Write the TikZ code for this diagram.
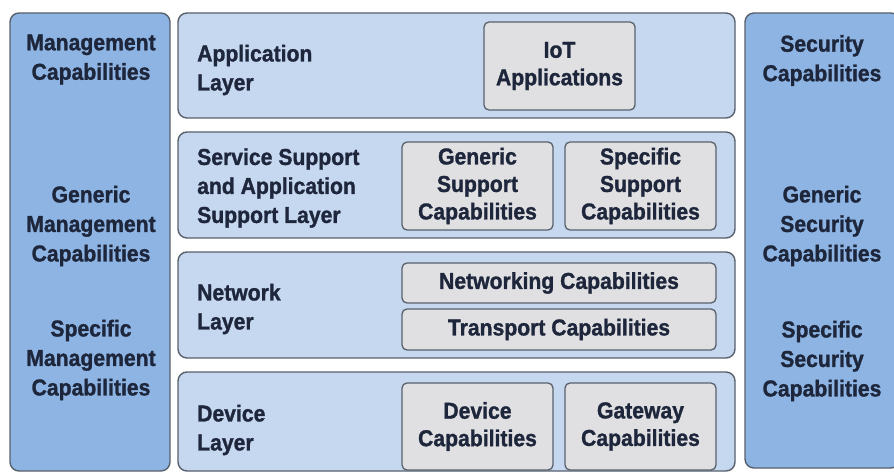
\documentclass[tikz,border=0pt]{standalone}
\usepackage{fontspec}
\setmainfont{Liberation Sans}[FakeStretch=0.92, BoldFeatures={FakeBold=1.2}]

\definecolor{colblue}{RGB}{141,180,226}
\definecolor{layerblue}{RGB}{198,216,240}
\definecolor{capgray}{RGB}{224,224,226}
\definecolor{edgegray}{RGB}{88,96,108}
\definecolor{navy}{RGB}{30,38,60}

\tikzset{
  colbox/.style={draw=edgegray, line width=1.4pt, fill=colblue, rounded corners=9pt, inner sep=0pt},
  layerbox/.style={draw=edgegray, line width=1.4pt, fill=layerblue, rounded corners=9pt, inner sep=0pt},
  capbox/.style={draw=edgegray, line width=1.3pt, fill=capgray, rounded corners=5pt, inner sep=0pt,
    align=center, text=navy, font=\fontsize{23}{27.5}\selectfont\bfseries},
  coltext/.style={align=center, inner sep=0pt, text=navy, font=\fontsize{23}{29.5}\selectfont\bfseries},
  laytext/.style={anchor=west, align=left, inner sep=0pt, text=navy, font=\fontsize{23}{29}\selectfont\bfseries}
}

\begin{document}
\begin{tikzpicture}[x=1pt,y=-1pt]

\useasboundingbox[fill=white] (0,0) rectangle (894,473);

% side columns
\node[colbox, minimum width=160pt, minimum height=458pt] (mgmt) at (90,242) {};
\node[colbox, minimum width=155pt, minimum height=455pt] (sec) at (822.5,240.5) {};

\node[coltext] (mgmttop) at (91,59.5) {Management\\Capabilities};
\node[coltext] (mgmtgen) at (91,226) {Generic\\Management\\Capabilities};
\node[coltext] (mgmtspec) at (91,360) {Specific\\Management\\Capabilities};

\node[coltext] (sectop) at (822,60.5) {Security\\Capabilities};
\node[coltext] (secgen) at (822,226) {Generic\\Security\\Capabilities};
\node[coltext] (secspec) at (822,361) {Specific\\Security\\Capabilities};

% layers
\node[layerbox, minimum width=557pt, minimum height=105pt] (app) at (456.5,65.5) {};
\node[layerbox, minimum width=557pt, minimum height=106pt] (svc) at (456.5,185) {};
\node[layerbox, minimum width=557pt, minimum height=106pt] (net) at (456.5,305) {};
\node[layerbox, minimum width=557pt, minimum height=99pt] (dev) at (456.5,421.5) {};

\node[laytext] (applabel) at (197,70) {Application\\Layer};
\node[laytext] (svclabel) at (197,188) {Service Support\\and Application\\Support Layer};
\node[laytext] (netlabel) at (197,309) {Network\\Layer};
\node[laytext] (devlabel) at (197,430) {Device\\Layer};

% capabilities inside the layers
\node[capbox, minimum width=151pt, minimum height=88pt] (iot) at (559.5,66) {IoT\\Applications};

\node[capbox, minimum width=151pt, minimum height=88pt] (gensup) at (477.5,186) {Generic\\Support\\Capabilities};
\node[capbox, minimum width=151pt, minimum height=88pt] (specsup) at (640.5,186) {Specific\\Support\\Capabilities};

\node[capbox, minimum width=314pt, minimum height=40pt] (netcap) at (559,283) {Networking Capabilities};
\node[capbox, minimum width=314pt, minimum height=41pt] (transcap) at (559,329.5) {Transport Capabilities};

\node[capbox, minimum width=151pt, minimum height=87pt] (devcap) at (477.5,426.5) {Device\\Capabilities};
\node[capbox, minimum width=151pt, minimum height=87pt] (gwcap) at (640.5,426.5) {Gateway\\Capabilities};

\end{tikzpicture}
\end{document}
